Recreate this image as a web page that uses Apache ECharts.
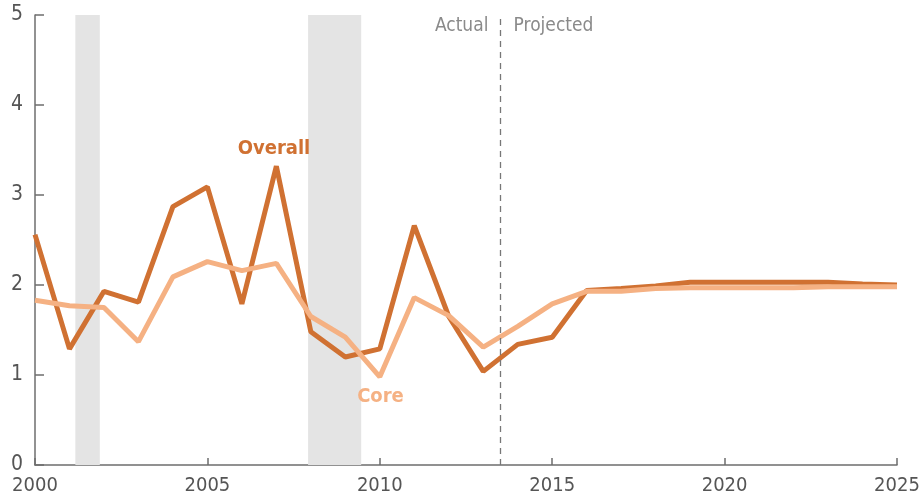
<!DOCTYPE html>
<html>
<head>
<meta charset="utf-8">
<script src="https://cdn.jsdelivr.net/npm/echarts@6/dist/echarts.min.js"></script>
<style>html,body{margin:0;padding:0;background:#fff;}#c{width:920px;height:499px;}</style>
</head>
<body>
<div id="c"></div>
<script>
var years = [2000,2001,2002,2003,2004,2005,2006,2007,2008,2009,2010,2011,2012,2013,2014,2015,2016,2017,2018,2019,2020,2021,2022,2023,2024,2025];
var overall = [2.56,1.29,1.93,1.81,2.87,3.09,1.79,3.32,1.48,1.20,1.29,2.66,1.65,1.04,1.34,1.42,1.94,1.96,1.99,2.03,2.03,2.03,2.03,2.03,2.01,2.00];
var core = [1.83,1.77,1.75,1.37,2.09,2.26,2.16,2.24,1.65,1.42,0.98,1.86,1.66,1.31,1.54,1.79,1.93,1.93,1.96,1.97,1.97,1.97,1.97,1.98,1.98,1.98];
var recessions = [[2001.17, 2001.88], [2007.92, 2009.46]];
var projectionStart = 2013.5;
var xTicks = [2000, 2005, 2010, 2015, 2020, 2025];
var yTicks = [0, 1, 2, 3, 4, 5];

var FONT = '"Liberation Sans Narrow", "DejaVu Sans Condensed", "Roboto", sans-serif';
function pairs(v){ return years.map(function(y,i){ return [y, v[i]]; }); }

var chart = echarts.init(document.getElementById('c'), null, {renderer:'canvas'});
chart.setOption({
  animation: false,
  textStyle: {fontFamily: FONT},
  grid: {left: 35, right: 23, top: 15, bottom: 34, containLabel: false, outerBoundsMode: 'none'},
  xAxis: {
    type: 'value', min: 2000, max: 2025, interval: 5,
    axisLine: {lineStyle: {color: '#6e6e6e', width: 1.5}},
    axisTick: {inside: true, length: 7, lineStyle: {color: '#6e6e6e', width: 1.5}},
    axisLabel: {color: '#555', fontSize: 20, fontFamily: FONT, margin: 11,
      formatter: function(v){ return xTicks.indexOf(v) >= 0 ? String(v) : ''; }},
    splitLine: {show: false}
  },
  yAxis: {
    type: 'value', min: 0, max: 5, interval: 1,
    axisLine: {show: true, lineStyle: {color: '#6e6e6e', width: 1.5}},
    axisTick: {show: true, inside: true, length: 9, lineStyle: {color: '#6e6e6e', width: 1.5}},
    axisLabel: {color: '#555', fontSize: 21, fontFamily: FONT, margin: 12,
      formatter: function(v){ return yTicks.indexOf(v) >= 0 ? String(v) : ''; }},
    splitLine: {show: false}
  },
  series: [
    {
      type: 'line', data: [], silent: true, z: 1,
      markArea: {
        silent: true,
        itemStyle: {color: '#e4e4e4'},
        data: recessions.map(function(r){ return [{xAxis: r[0]}, {xAxis: r[1]}]; })
      },
      markLine: {
        silent: true, symbol: ['none','none'],
        lineStyle: {color: '#777', type: [6,5], width: 1.3},
        label: {show: false},
        data: [{xAxis: projectionStart}]
      },
      markPoint: {
        symbolSize: 0, silent: true,
        data: [
          {coord: [2013.15, 4.88], label: {show: true, formatter: 'Actual', position: 'left', distance: 0, color: '#8a8a8a', fontSize: 19, fontFamily: FONT}},
          {coord: [2013.88, 4.88], label: {show: true, formatter: 'Projected', position: 'right', distance: 0, color: '#8a8a8a', fontSize: 19, fontFamily: FONT}},
          {coord: [2006.93, 3.51], label: {show: true, formatter: 'Overall', position: 'inside', color: '#d07132', fontSize: 20, fontWeight: 'bold', fontFamily: FONT}},
          {coord: [2010.02, 0.76], label: {show: true, formatter: 'Core', position: 'inside', color: '#f5b183', fontSize: 20, fontWeight: 'bold', fontFamily: FONT}}
        ]
      }
    },
    {
      name: 'Overall', type: 'line', data: pairs(overall), z: 3,
      symbol: 'none', lineStyle: {color: '#d07132', width: 5}, itemStyle: {color: '#d07132'}
    },
    {
      name: 'Core', type: 'line', data: pairs(core), z: 4,
      symbol: 'none', lineStyle: {color: '#f5b183', width: 5}, itemStyle: {color: '#f5b183'}
    }
  ]
});
</script>
</body>
</html>
